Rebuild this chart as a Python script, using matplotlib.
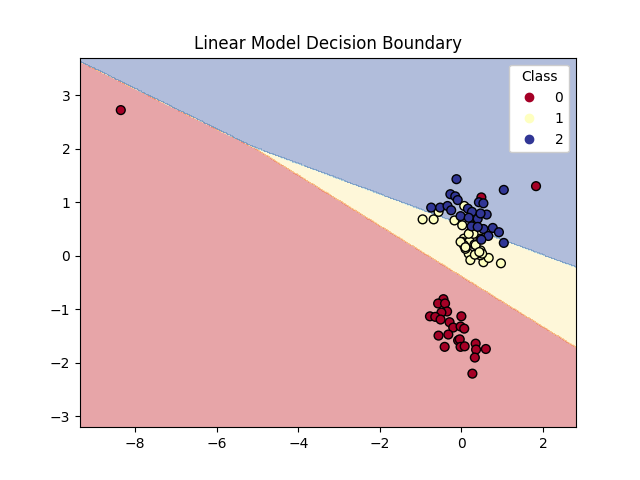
import numpy as np
import matplotlib
matplotlib.use('Agg')
import matplotlib.pyplot as plt

# points
x0 = [-8.35, 1.83, 0.49, -0.44, -0.57, -0.40, -0.35, -0.49, -0.77, -0.64, -0.51, 0.00, -0.29,
      -0.20, -0.02, 0.07, -0.56, -0.32, -0.08, -0.04, -0.41, -0.02, 0.08, 0.35, 0.36, 0.60, 0.33, 0.27]
y0 = [2.72, 1.30, 1.09, -0.81, -0.89, -0.89, -1.04, -1.06, -1.13, -1.14, -1.19, -1.13, -1.24,
      -1.34, -1.32, -1.36, -1.49, -1.47, -1.58, -1.56, -1.70, -1.70, -1.69, -1.64, -1.75, -1.74, -1.90, -2.20]

x1 = [-0.95, -0.68, -0.56, -0.17, 0.07, 0.02, 0.22, 0.06, 0.02, 0.20, 0.06, 0.32,
      0.47, 0.18, 0.40, 0.22, 0.54, 0.67, 0.97, 0.47, 0.10, 0.35, 0.47,
      0.35, 0.33, 0.51, -0.02, 0.30, 0.18, 0.10, 0.44]
y1 = [0.68, 0.68, 0.82, 0.66, 0.93, 0.57, 0.44, 0.32, 0.26, 0.27, 0.20, 0.21,
      0.10, 0.04, 0.03, -0.08, -0.12, -0.04, -0.14, 0.01, 0.13, 0.57, 0.32,
      0.20, 0.02, 0.04, 0.26, 0.41, 0.41, 0.16, 0.07]

x2 = [-0.12, 1.04, -0.27, -0.15, -0.09, 0.43, 0.54, -0.74, -0.52, -0.34, -0.25, 0.16, 0.26,
      -0.02, 0.18, 0.40, 0.62, 0.47, 0.25, 0.54, 0.77, 0.92, 0.66, 0.49, 1.04, 0.40]
y2 = [1.43, 1.23, 1.15, 1.11, 1.04, 1.00, 0.98, 0.90, 0.90, 0.93, 0.85, 0.88, 0.82,
      0.74, 0.71, 0.69, 0.77, 0.79, 0.55, 0.50, 0.52, 0.44, 0.37, 0.30, 0.24, 0.54]

# linear model scores, one row per class: x coef, y coef, intercept
coef0 = [-0.453, -0.96, -0.366]
coef1 = [0.0, 0.0, 0.0]
coef2 = [0.284, 1.0, -0.587]

X = np.array(x0 + x1 + x2)
Y = np.array(y0 + y1 + y2)
labels = np.array([0] * len(x0) + [1] * len(x1) + [2] * len(x2))

xx, yy = np.meshgrid(np.arange(X.min() - 1, X.max() + 1, 0.02),
                     np.arange(Y.min() - 1, Y.max() + 1, 0.02))
scores = [c[0] * xx + c[1] * yy + c[2] for c in (coef0, coef1, coef2)]
Z = np.argmax(scores, axis=0)

fig, ax = plt.subplots(figsize=(6.4, 4.8), dpi=100)
ax.contourf(xx, yy, Z, alpha=0.4, cmap='RdYlBu')
sc = ax.scatter(X, Y, c=labels, cmap='RdYlBu', edgecolor='k', s=40)
ax.set_title('Linear Model Decision Boundary')
ax.legend(*sc.legend_elements(), title='Class', loc='upper right', framealpha=1)

plt.savefig('out.png', dpi=100)
